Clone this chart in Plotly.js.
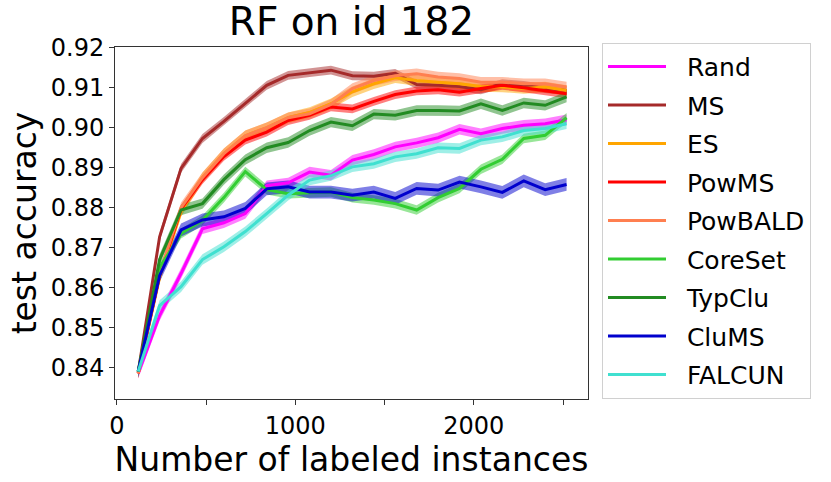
<!DOCTYPE html>
<html>
<head>
<meta charset="utf-8">
<script src="https://cdn.plot.ly/plotly-3.0.1.min.js"></script>
<style>
  html, body { margin: 0; padding: 0; background: #fff; }
  #chart { width: 831px; height: 482px; }
</style>
</head>
<body>
<div id="chart"></div>
<script>
// number of labeled instances
const xs = [120, 240, 360, 480, 600, 720, 840, 960, 1080, 1200, 1320,
            1440, 1560, 1680, 1800, 1920, 2040, 2160, 2280, 2400, 2520];

// mean test accuracy per strategy
const rand    = [0.8385, 0.8530, 0.8635, 0.8747, 0.8762, 0.8785, 0.8855, 0.8862, 0.8889, 0.8881, 0.8919,
                 0.8933, 0.8952, 0.8962, 0.8975, 0.8996, 0.8985, 0.8998, 0.9006, 0.9010, 0.9020];
const ms      = [0.8388, 0.8727, 0.8898, 0.8973, 0.9016, 0.9062, 0.9106, 0.9131, 0.9138, 0.9144, 0.9130,
                 0.9129, 0.9136, 0.9108, 0.9106, 0.9103, 0.9095, 0.9110, 0.9106, 0.9098, 0.9093];
const es      = [0.8385, 0.8625, 0.8790, 0.8875, 0.8935, 0.8980, 0.9000, 0.9025, 0.9038, 0.9060, 0.9090,
                 0.9110, 0.9125, 0.9118, 0.9114, 0.9110, 0.9103, 0.9102, 0.9098, 0.9102, 0.9093];
const powms   = [0.8385, 0.8630, 0.8796, 0.8870, 0.8928, 0.8969, 0.8989, 0.9018, 0.9031, 0.9052, 0.9047,
                 0.9066, 0.9083, 0.9092, 0.9095, 0.9089, 0.9098, 0.9106, 0.9100, 0.9093, 0.9085];
const powbald = [0.8385, 0.8635, 0.8800, 0.8875, 0.8935, 0.8980, 0.9000, 0.9025, 0.9035, 0.9058, 0.9098,
                 0.9118, 0.9130, 0.9135, 0.9127, 0.9123, 0.9114, 0.9114, 0.9110, 0.9110, 0.9102];
const coreset = [0.8390, 0.8650, 0.8735, 0.8768, 0.8825, 0.8890, 0.8845, 0.8835, 0.8837, 0.8839, 0.8825,
                 0.8819, 0.8810, 0.8794, 0.8825, 0.8848, 0.8896, 0.8921, 0.8973, 0.8981, 0.9025];
const typclu  = [0.8390, 0.8670, 0.8794, 0.8810, 0.8870, 0.8920, 0.8950, 0.8963, 0.8993, 0.9014, 0.9005,
                 0.9034, 0.9031, 0.9043, 0.9043, 0.9042, 0.9060, 0.9043, 0.9062, 0.9056, 0.9077];
const clums   = [0.8390, 0.8630, 0.8744, 0.8769, 0.8777, 0.8798, 0.8847, 0.8852, 0.8839, 0.8839, 0.8831,
                 0.8839, 0.8823, 0.8848, 0.8844, 0.8864, 0.8852, 0.8838, 0.8867, 0.8845, 0.8858];
const falcun  = [0.8390, 0.8555, 0.8602, 0.8670, 0.8702, 0.8740, 0.8785, 0.8831, 0.8869, 0.8880, 0.8902,
                 0.8910, 0.8927, 0.8935, 0.8950, 0.8948, 0.8969, 0.8977, 0.8993, 0.8998, 0.9010];

// half width of the shaded band (std error) per strategy
const bandWidth = [0.0013, 0.0011, 0.0013, 0.0011, 0.0013, 0.0012, 0.0013, 0.0016, 0.0013];

const names  = ["Rand", "MS", "ES", "PowMS", "PowBALD", "CoreSet", "TypClu", "CluMS", "FALCUN"];
const series = [rand, ms, es, powms, powbald, coreset, typclu, clums, falcun];
const colors = ["#ff00ff", "#a52a2a", "#ffa500", "#ff0000", "#ff7f50",
                "#32cd32", "#228b22", "#0000cd", "#40e0d0"];

function withAlpha(hex, a) {
    let r = parseInt(hex.slice(1,3),16), g = parseInt(hex.slice(3,5),16), b = parseInt(hex.slice(5,7),16);
    return `rgba(${r},${g},${b},${a})`;
}

let traces = [];

// shaded bands go underneath every line
series.forEach((ys, k) => {
    let upper = ys.map(v => v + bandWidth[k]);
    let lower = ys.map(v => v - bandWidth[k]).reverse();
    traces.push({
        type: "scatter", mode: "lines",
        x: xs.concat(xs.slice().reverse()),
        y: upper.concat(lower),
        fill: "toself", fillcolor: withAlpha(colors[k], 0.5),
        line: {width: 0}, hoverinfo: "skip", showlegend: false
    });
});

series.forEach((ys, k) => {
    traces.push({
        type: "scatter", mode: "lines", x: xs, y: ys,
        // two leading spaces push the label away from the line sample
        name: "\u00a0\u00a0" + names[k], legendgroup: names[k],
        line: {color: colors[k], width: 3}
    });
});

const font = "DejaVu Sans, sans-serif";

const layout = {
    width: 831, height: 482,
    margin: {l: 115, r: 243, t: 47, b: 83},
    paper_bgcolor: "#fff", plot_bgcolor: "#fff",
    font: {family: font, color: "#000"},
    title: {text: "RF on id 182", font: {size: 39, family: font}, x: 0.423, xanchor: "center", y: 0.955, yanchor: "middle"},
    xaxis: {
        range: [-10, 2640], showgrid: false, zeroline: false,
        showline: true, mirror: true, linecolor: "#333", linewidth: 1,
        ticks: "outside", ticklen: 5, tickcolor: "#333",
        tickvals: [0, 500, 1000, 1500, 2000, 2500],
        ticktext: ["0", "", "1000", "", "2000", ""],
        tickfont: {size: 24},
        title: {text: "Number of labeled instances", font: {size: 33}, standoff: 2}
    },
    yaxis: {
        range: [0.8321, 0.9202], showgrid: false, zeroline: false,
        showline: true, mirror: true, linecolor: "#333", linewidth: 1,
        ticks: "outside", ticklen: 5, tickcolor: "#333",
        tickvals: [0.84, 0.85, 0.86, 0.87, 0.88, 0.89, 0.90, 0.91, 0.92],
        tickformat: ".2f",
        tickfont: {size: 24},
        title: {text: "test accuracy", font: {size: 33}, standoff: 4}
    },
    legend: {
        x: 1.0296, xanchor: "left", y: 1.012, yanchor: "top",
        bgcolor: "#fff", bordercolor: "#d0d0d0", borderwidth: 1,
        font: {size: 25}, itemwidth: 58, tracegroupgap: 3, maxheight: 420
    },
    showlegend: true
};

Plotly.newPlot("chart", traces, layout, {staticPlot: true});
</script>
</body>
</html>
